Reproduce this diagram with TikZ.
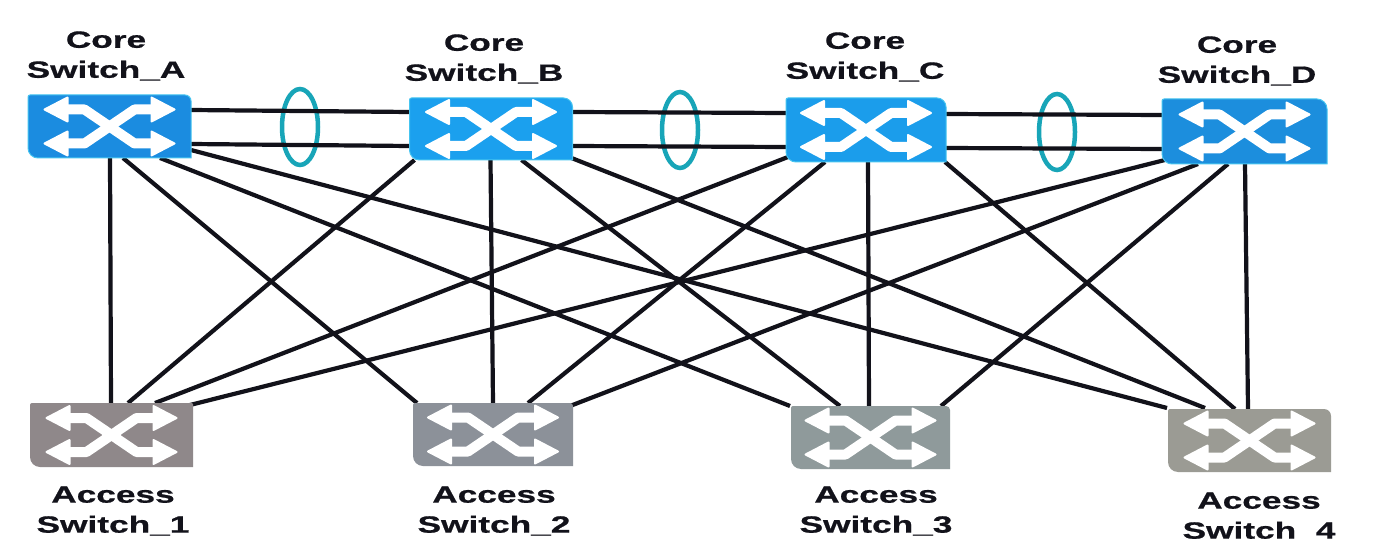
\documentclass[tikz,border=0pt]{standalone}
\usepackage{fontspec}
\usetikzlibrary{calc,shapes.geometric}
\newfontfamily\lab[FakeStretch=1.5,FakeBold=0.7]{Liberation Sans}
\pgfdeclarelayer{back}
\pgfsetlayers{back,main}
\definecolor{coreA}{HTML}{1B8CE0}
\definecolor{coreB}{HTML}{1BA0EE}
\definecolor{coreC}{HTML}{1B9DEB}
\definecolor{coreD}{HTML}{1C8EDD}
\definecolor{glow}{HTML}{45C4F0}
\definecolor{acc1}{HTML}{8F888A}
\definecolor{acc2}{HTML}{8C9199}
\definecolor{acc3}{HTML}{8F9A9B}
\definecolor{acc4}{HTML}{9B9B94}
\definecolor{lagc}{HTML}{18A5B8}
\definecolor{ink}{HTML}{12121A}
\tikzset{
  swbox/.style={rectangle,inner sep=0pt,outer sep=0pt,draw=none},
  swbody/.style={fill=#1},
  coreedge/.style={draw=glow,line width=1pt},
  wire/.style={draw=ink,line width=4.2pt},
  lag/.style={ellipse,draw=lagc,line width=4.5pt,inner sep=0pt,minimum width=36pt,minimum height=76pt},
  lab/.style={font=\lab\bfseries\fontsize{23.5}{30}\selectfont,align=center,text=ink,inner sep=0pt},
  glyphshaft/.style={draw=white,line width=10pt,line join=round},
  glyphhead/.style={fill=white,draw=white,line width=2pt,line join=round}
}
\newcommand{\swt}[8]{%
  \node[swbox,minimum width=#4pt,minimum height=#5pt] (#1) at (#2,#3) {};
  \path[swbody=#6,#7] (#1.north) [rounded corners=#8] -- (#1.north east) -- (#1.east)
     [sharp corners] -- (#1.south east) -- (#1.south)
     [rounded corners=10pt] -- (#1.south west) -- (#1.west)
     [rounded corners=2pt] -- (#1.north west) -- cycle;
  \begin{scope}[shift={(#1.center)}]
    \path[glyphshaft] (-43,-17) -- (-25,-17) -- (25,17) -- (43,17);
    \path[glyphshaft] (-43,17) -- (-25,17) -- (25,-17) -- (43,-17);
    \foreach \sx in {-1,1} \foreach \sy in {-1,1}
      \path[glyphhead] ({\sx*65},{\sy*17}) -- ({\sx*42},{\sy*17-12}) -- ({\sx*42},{\sy*17+12}) -- cycle;
  \end{scope}}
\newcommand{\lnk}[6]{\draw[wire] ($(#1.south west)+(#2,#3)$) -- ($(#4.north west)+(#5,#6)$);}
\begin{document}
\begin{tikzpicture}[x=1pt,y=-1pt]
\useasboundingbox (0,0) rectangle (1375,540);
\begin{pgfonlayer}{back}
\fill[white] (0,0) rectangle (1375,540);
\end{pgfonlayer}
% switches
\swt{A}{109.5}{126.5}{163}{63}{coreA}{coreedge}{6pt}
\swt{B}{491}{129}{163}{62}{coreB}{coreedge}{9pt}
\swt{C}{866}{130}{160}{64}{coreC}{coreedge}{9pt}
\swt{D}{1244.5}{131.5}{165}{65}{coreD}{coreedge}{10pt}
\swt{S1}{111.5}{435}{163}{64}{acc1}{}{1pt}
\swt{S2}{493}{434.5}{160}{63}{acc2}{}{3pt}
\swt{S3}{870.5}{437.5}{159}{63}{acc3}{}{4pt}
\swt{S4}{1249.5}{440.5}{163}{63}{acc4}{}{7pt}
% aggregation rings
\begin{pgfonlayer}{back}
\node[lag] (ringAB) at (300,127) {};
\node[lag] (ringBC) at (680,130) {};
\node[lag] (ringCD) at (1057,132) {};
% stacked links between core switches
\draw[wire] ($(A.north east)+(0,15)$) -- ($(B.north west)+(0,14)$);
\draw[wire] ($(A.north east)+(0,49)$) -- ($(B.north west)+(0,48)$);
\draw[wire] ($(B.north east)+(0,14)$) -- ($(C.north west)+(0,15)$);
\draw[wire] ($(B.north east)+(0,48)$) -- ($(C.north west)+(0,49)$);
\draw[wire] ($(C.north east)+(0,16)$) -- ($(D.north west)+(0,16)$);
\draw[wire] ($(C.north east)+(0,50)$) -- ($(D.north west)+(0,50)$);
% core to access
\lnk{A}{82}{0}{S1}{81}{0}
\lnk{A}{95}{0}{S2}{4}{0}
\lnk{A}{132}{0}{S3}{-1}{0}
\lnk{A}{163}{-8}{S4}{-1}{-1}
\lnk{B}{5}{0}{S1}{98}{0}
\lnk{B}{81}{0}{S2}{80}{0}
\lnk{B}{112}{0}{S3}{49}{0}
\lnk{B}{162}{-2}{S4}{37}{-1}
\lnk{C}{2}{-5}{S1}{125}{0}
\lnk{C}{39}{0}{S2}{115}{0}
\lnk{C}{82}{0}{S3}{78}{0}
\lnk{C}{159}{0}{S4}{67}{0}
\lnk{D}{3}{-4}{S1}{160}{2}
\lnk{D}{36}{0}{S2}{157}{3}
\lnk{D}{66}{0}{S3}{150}{0}
\lnk{D}{83}{0}{S4}{80}{0}
\end{pgfonlayer}
% labels
\node[lab] (lA) at (106,56) {Core\\Switch\_A};
\node[lab] (lB) at (484,59) {Core\\Switch\_B};
\node[lab] (lC) at (865,57) {Core\\Switch\_C};
\node[lab] (lD) at (1237,61) {Core\\Switch\_D};
\node[lab] (l1) at (113,511) {Access\\Switch\_1};
\node[lab] (l2) at (494,511) {Access\\Switch\_2};
\node[lab] (l3) at (876,511) {Access\\Switch\_3};
\node[lab] (l4) at (1259,517) {Access\\Switch\_4};
\end{tikzpicture}
\end{document}
